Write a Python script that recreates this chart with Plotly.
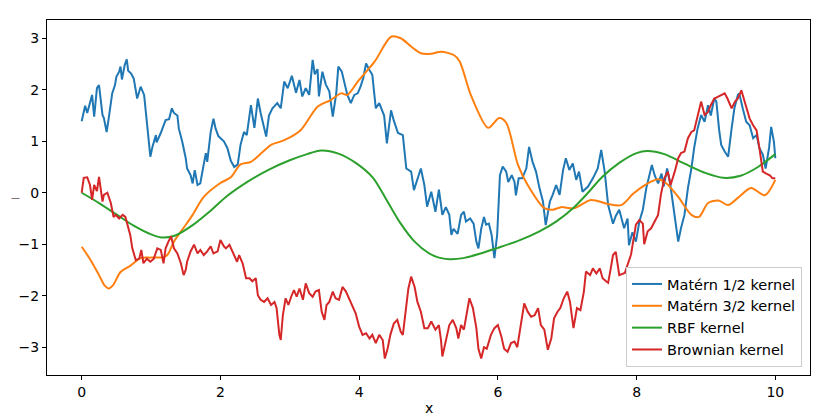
import plotly.graph_objects as go

# sample paths, (x, f(x)) pairs
matern12_pts = [
    (0.00, 1.39), (0.02, 1.51), (0.05, 1.69), (0.08, 1.55), (0.11, 1.72), (0.15, 1.90),
    (0.18, 1.48), (0.22, 2.03), (0.25, 2.09), (0.30, 1.51), (0.32, 1.45), (0.36, 1.18),
    (0.39, 1.45), (0.44, 1.93), (0.48, 2.09), (0.50, 2.25), (0.54, 2.35), (0.56, 2.45),
    (0.58, 2.20), (0.62, 2.48), (0.65, 2.59), (0.67, 2.37), (0.71, 2.32), (0.75, 2.22),
    (0.80, 1.83), (0.85, 2.06), (0.90, 1.90), (0.94, 1.31), (0.99, 0.70), (1.02, 0.89),
    (1.07, 1.12), (1.08, 0.98), (1.14, 1.16), (1.21, 1.41), (1.26, 1.43), (1.30, 1.64),
    (1.33, 1.55), (1.38, 1.50), (1.40, 1.25), (1.45, 0.99), (1.50, 0.67), (1.52, 0.47),
    (1.57, 0.34), (1.60, 0.18), (1.63, 0.44), (1.67, 0.15), (1.71, 0.18), (1.75, 0.48),
    (1.79, 0.77), (1.81, 0.60), (1.86, 1.18), (1.90, 1.44), (1.93, 1.25), (1.97, 1.10),
    (2.00, 1.06), (2.05, 1.00), (2.10, 0.87), (2.15, 0.62), (2.20, 0.50), (2.25, 0.55),
    (2.29, 0.93), (2.34, 1.18), (2.38, 1.12), (2.44, 1.70), (2.49, 1.26), (2.54, 1.83),
    (2.58, 1.55), (2.63, 1.25), (2.66, 1.09), (2.70, 1.50), (2.75, 1.64), (2.82, 1.74),
    (2.87, 1.64), (2.92, 2.16), (2.97, 2.03), (3.03, 2.27), (3.09, 1.94), (3.14, 2.19),
    (3.18, 1.87), (3.23, 2.03), (3.28, 1.90), (3.33, 2.58), (3.36, 2.30), (3.40, 2.40),
    (3.42, 1.87), (3.47, 2.35), (3.52, 2.10), (3.57, 1.97), (3.62, 1.48), (3.67, 1.93),
    (3.70, 2.45), (3.75, 2.35), (3.80, 2.10), (3.83, 1.90), (3.88, 1.74), (3.93, 1.90),
    (3.98, 1.93), (4.02, 2.06), (4.06, 2.23), (4.10, 2.51), (4.15, 2.38), (4.19, 2.29),
    (4.24, 1.64), (4.29, 1.74), (4.36, 1.50), (4.40, 0.96), (4.46, 1.60), (4.50, 1.40),
    (4.56, 1.16), (4.63, 1.12), (4.68, 0.47), (4.75, 0.41), (4.79, 0.05), (4.85, 0.30),
    (4.89, 0.47), (4.94, 0.15), (4.98, -0.27), (5.04, 0.02), (5.10, -0.37), (5.15, 0.06),
    (5.20, -0.43), (5.25, -0.28), (5.30, -0.43), (5.33, -0.82), (5.36, -0.70), (5.42, -0.80),
    (5.47, -0.43), (5.51, -0.37), (5.54, -0.56), (5.60, -0.50), (5.65, -0.60), (5.69, -0.95),
    (5.72, -1.08), (5.76, -0.70), (5.80, -0.47), (5.83, -0.62), (5.87, -0.60), (5.91, -0.82),
    (5.95, -1.27), (5.99, -0.82), (6.03, 0.34), (6.07, 0.51), (6.12, 0.41), (6.15, 0.21),
    (6.20, 0.34), (6.24, 0.21), (6.26, -0.05), (6.30, 0.28), (6.35, 0.28), (6.41, 0.47),
    (6.45, 0.89), (6.50, 0.60), (6.55, 0.41), (6.60, 0.09), (6.65, -0.17), (6.69, -0.63),
    (6.75, -0.17), (6.79, -0.04), (6.84, 0.15), (6.89, -0.04), (6.94, 0.44), (6.98, 0.67),
    (7.03, 0.44), (7.08, 0.57), (7.13, 0.25), (7.17, 0.41), (7.22, 0.02), (7.30, 0.12),
    (7.37, 0.28), (7.44, 0.47), (7.49, 0.83), (7.54, 0.41), (7.59, -0.24), (7.66, -0.60),
    (7.70, -0.45), (7.75, -0.33), (7.82, -0.69), (7.87, -0.50), (7.89, -1.02), (7.94, -0.77),
    (7.99, -0.95), (8.04, -0.56), (8.09, -0.33), (8.14, 0.09), (8.19, 0.34), (8.22, 0.54),
    (8.26, 0.34), (8.31, 0.18), (8.36, 0.37), (8.39, 0.12), (8.44, 0.47), (8.48, 0.21),
    (8.52, -0.17), (8.57, -0.63), (8.60, -0.95), (8.64, -0.69), (8.69, -0.43), (8.74, 0.09),
    (8.79, 0.47), (8.83, 0.87), (8.88, 1.25), (8.93, 1.51), (8.98, 1.38), (9.03, 1.70),
    (9.07, 1.50), (9.12, 1.83), (9.15, 1.77), (9.19, 1.22), (9.22, 0.93), (9.27, 0.80),
    (9.32, 0.70), (9.37, 1.25), (9.41, 1.64), (9.46, 1.90), (9.48, 1.93), (9.53, 1.64),
    (9.58, 1.38), (9.63, 1.31), (9.68, 1.06), (9.73, 1.12), (9.77, 0.87), (9.82, 0.74),
    (9.86, 0.47), (9.91, 0.87), (9.94, 1.28), (9.98, 0.99), (10.00, 0.67),
]

matern32_pts = [
    (0.00, -1.05), (0.13, -1.31), (0.25, -1.60), (0.33, -1.80), (0.39, -1.86), (0.45, -1.80),
    (0.56, -1.54), (0.70, -1.42), (0.85, -1.27), (1.00, -1.26), (1.18, -1.25), (1.24, -1.20),
    (1.33, -0.95), (1.47, -0.68), (1.60, -0.43), (1.76, -0.08), (2.00, 0.19), (2.15, 0.30),
    (2.29, 0.55), (2.44, 0.60), (2.60, 0.78), (2.73, 0.93), (2.92, 1.02), (3.16, 1.22),
    (3.40, 1.67), (3.59, 1.80), (3.74, 1.93), (3.83, 1.90), (3.98, 2.16), (4.22, 2.54),
    (4.46, 3.03), (4.60, 3.00), (4.75, 2.84), (4.89, 2.71), (5.04, 2.70), (5.18, 2.74),
    (5.37, 2.67), (5.45, 2.55), (5.61, 1.90), (5.86, 1.26), (6.02, 1.45), (6.12, 1.36),
    (6.29, 0.54), (6.43, 0.15), (6.67, -0.30), (6.79, -0.33), (6.91, -0.28), (7.10, -0.30),
    (7.34, -0.14), (7.59, -0.22), (7.78, -0.24), (7.95, -0.02), (8.11, 0.14), (8.31, 0.26),
    (8.43, 0.18), (8.60, -0.08), (8.79, -0.43), (8.90, -0.47), (9.03, -0.20), (9.18, -0.15),
    (9.32, -0.24), (9.46, -0.10), (9.65, 0.09), (9.85, -0.05), (10.00, 0.25),
]

rbf_pts = [
    (0.00, 0.00), (0.25, -0.20), (0.50, -0.42), (0.75, -0.64), (1.00, -0.81), (1.15, -0.87),
    (1.35, -0.83), (1.60, -0.63), (1.85, -0.36), (2.10, -0.06), (2.40, 0.22), (2.70, 0.45),
    (3.00, 0.63), (3.25, 0.75), (3.45, 0.82), (3.70, 0.76), (3.95, 0.58), (4.20, 0.29),
    (4.40, -0.15), (4.60, -0.60), (4.80, -0.95), (5.00, -1.17), (5.15, -1.26), (5.30, -1.29),
    (5.50, -1.27), (5.75, -1.18), (6.00, -1.07), (6.30, -0.93), (6.60, -0.75), (6.85, -0.55),
    (7.10, -0.28), (7.30, 0.00), (7.50, 0.30), (7.75, 0.58), (8.00, 0.77), (8.15, 0.81),
    (8.40, 0.75), (8.70, 0.56), (9.00, 0.38), (9.25, 0.29), (9.50, 0.33), (9.75, 0.50),
    (10.00, 0.75),
]

brownian_pts = [
    (0.00, 0.00), (0.03, 0.29), (0.08, 0.30), (0.12, 0.15), (0.15, -0.14), (0.18, 0.15),
    (0.22, 0.03), (0.25, 0.31), (0.30, -0.17), (0.32, -0.04), (0.37, 0.00), (0.42, -0.20),
    (0.46, -0.47), (0.49, -0.43), (0.54, -0.50), (0.59, -0.43), (0.63, -0.47), (0.66, -0.60),
    (0.70, -0.82), (0.73, -1.08), (0.78, -1.31), (0.83, -1.28), (0.86, -1.11), (0.89, -1.37),
    (0.94, -1.28), (0.99, -1.34), (1.04, -1.28), (1.09, -1.08), (1.14, -1.11), (1.18, -1.37),
    (1.21, -1.08), (1.25, -0.95), (1.29, -0.85), (1.33, -1.08), (1.38, -1.18), (1.43, -1.37),
    (1.47, -1.60), (1.50, -1.50), (1.52, -1.34), (1.57, -1.14), (1.62, -1.01), (1.67, -1.18),
    (1.71, -1.11), (1.76, -1.21), (1.81, -1.14), (1.86, -1.04), (1.90, -1.18), (1.96, -1.14),
    (2.00, -0.92), (2.05, -1.04), (2.08, -1.08), (2.13, -1.01), (2.17, -1.14), (2.20, -1.24),
    (2.24, -1.34), (2.27, -1.21), (2.32, -1.37), (2.37, -1.66), (2.42, -1.66), (2.46, -1.72),
    (2.51, -1.66), (2.54, -1.99), (2.58, -2.08), (2.63, -2.12), (2.68, -2.05), (2.73, -2.18),
    (2.78, -2.12), (2.81, -2.24), (2.85, -2.76), (2.87, -2.86), (2.90, -2.38), (2.94, -2.05),
    (2.98, -2.18), (3.02, -2.02), (3.06, -1.89), (3.10, -2.02), (3.14, -1.86), (3.19, -2.08),
    (3.23, -1.76), (3.28, -1.95), (3.33, -2.02), (3.37, -1.92), (3.42, -1.89), (3.46, -2.31),
    (3.50, -2.47), (3.53, -2.18), (3.57, -2.12), (3.62, -1.92), (3.66, -2.05), (3.71, -2.08),
    (3.76, -1.83), (3.81, -1.92), (3.86, -2.08), (3.90, -2.18), (3.95, -2.34), (4.00, -2.60),
    (4.05, -2.76), (4.10, -2.73), (4.15, -2.83), (4.19, -2.76), (4.24, -2.92), (4.29, -2.76),
    (4.34, -2.86), (4.37, -3.22), (4.41, -3.03), (4.45, -2.76), (4.50, -2.54), (4.55, -2.47),
    (4.60, -2.70), (4.63, -2.76), (4.68, -2.24), (4.71, -1.86), (4.75, -1.63), (4.80, -1.83),
    (4.84, -2.12), (4.89, -2.31), (4.94, -2.63), (4.99, -2.63), (5.04, -2.50), (5.10, -2.66),
    (5.15, -2.57), (5.18, -2.86), (5.20, -3.18), (5.26, -2.83), (5.30, -2.57), (5.35, -2.47),
    (5.40, -2.63), (5.43, -2.83), (5.47, -2.57), (5.51, -2.66), (5.59, -2.05), (5.64, -2.24),
    (5.69, -2.63), (5.72, -3.03), (5.76, -3.22), (5.80, -3.00), (5.84, -3.03), (5.90, -2.76),
    (5.95, -2.63), (6.00, -2.57), (6.05, -2.79), (6.09, -3.03), (6.14, -3.09), (6.19, -2.92),
    (6.24, -2.89), (6.28, -3.00), (6.33, -2.57), (6.38, -2.15), (6.43, -2.31), (6.48, -2.41),
    (6.53, -2.38), (6.58, -2.24), (6.62, -2.57), (6.67, -2.66), (6.72, -3.05), (6.77, -2.83),
    (6.81, -2.44), (6.86, -2.31), (6.90, -2.24), (6.95, -2.05), (7.00, -1.92), (7.04, -2.12),
    (7.09, -2.63), (7.14, -2.24), (7.19, -2.28), (7.24, -1.92), (7.27, -1.53), (7.33, -1.60),
    (7.37, -1.47), (7.42, -1.57), (7.47, -1.47), (7.51, -1.66), (7.56, -1.72), (7.59, -1.75),
    (7.63, -1.45), (7.66, -1.21), (7.70, -1.15), (7.75, -1.60), (7.83, -1.56), (7.88, -1.34),
    (7.92, -1.20), (7.99, -0.62), (8.04, -0.53), (8.09, -0.60), (8.11, -1.00), (8.16, -0.75),
    (8.21, -0.69), (8.26, -0.56), (8.31, -0.43), (8.35, -0.04), (8.40, 0.28), (8.45, 0.41),
    (8.49, 0.15), (8.55, 0.41), (8.60, 0.67), (8.64, 0.77), (8.69, 0.80), (8.74, 1.06),
    (8.79, 1.18), (8.83, 1.21), (8.88, 1.51), (8.93, 1.77), (8.98, 1.51), (9.03, 1.57),
    (9.07, 1.70), (9.12, 1.83), (9.17, 1.86), (9.22, 1.90), (9.27, 1.93), (9.31, 1.83),
    (9.37, 1.64), (9.42, 1.77), (9.46, 1.83), (9.51, 1.99), (9.53, 1.90), (9.58, 1.67),
    (9.63, 1.44), (9.68, 1.31), (9.73, 1.21), (9.77, 0.87), (9.82, 0.41), (9.87, 0.37),
    (9.92, 0.34), (9.96, 0.28), (10.00, 0.28),
]

series = [
    ("Matérn 1/2 kernel", matern12_pts, "#1f77b4", "linear"),
    ("Matérn 3/2 kernel", matern32_pts, "#ff7f0e", "spline"),
    ("RBF kernel", rbf_pts, "#2ca02c", "spline"),
    ("Brownian kernel", brownian_pts, "#d62728", "linear"),
]

x_ticks = [0, 2, 4, 6, 8, 10]
y_ticks = [-3, -2, -1, 0, 1, 2, 3]

FONT = "DejaVu Sans, Arial, sans-serif"

fig = go.Figure()
for name, pts, color, shape in series:
    xs = [p[0] for p in pts]
    ys = [p[1] for p in pts]
    fig.add_trace(go.Scatter(
        x=xs, y=ys, mode="lines", name=name,
        line=dict(color=color, width=2, shape=shape, smoothing=0.8 if shape == "spline" else None),
    ))

axis_common = dict(
    showline=True, linecolor="black", linewidth=1, mirror=True,
    showgrid=False, zeroline=False, automargin=False,
    ticks="outside", ticklen=4, tickwidth=1, tickcolor="black",
    tickfont=dict(family=FONT, size=14, color="black"),
)

# the page body adds an 8px offset, so margins are trimmed to land the axes where the reference has them
fig.update_layout(
    width=830, height=415,
    margin=dict(l=39, r=28, t=12, b=48),
    plot_bgcolor="white",
    paper_bgcolor="white",
    font=dict(family=FONT, size=14, color="black"),
    xaxis=dict(range=[-0.5, 10.5], tickvals=x_ticks, **axis_common),
    yaxis=dict(range=[-3.54, 3.355], tickvals=y_ticks, **axis_common),
    legend=dict(
        x=0.9895, y=0.0225, xanchor="right", yanchor="bottom",
        bgcolor="rgba(255,255,255,0.8)", bordercolor="#cccccc", borderwidth=1,
        font=dict(family=FONT, size=14.5, color="black"),
    ),
    annotations=[
        dict(text="x", xref="paper", yref="paper", x=0.5, y=-0.093, yanchor="middle",
             showarrow=False, font=dict(family=FONT, size=14, color="black")),
        dict(text="—", xref="paper", yref="paper", x=-0.05, y=0.5,
             showarrow=False, font=dict(family=FONT, size=9, color="black")),
    ],
    showlegend=True,
)

fig.write_html("out.html")
